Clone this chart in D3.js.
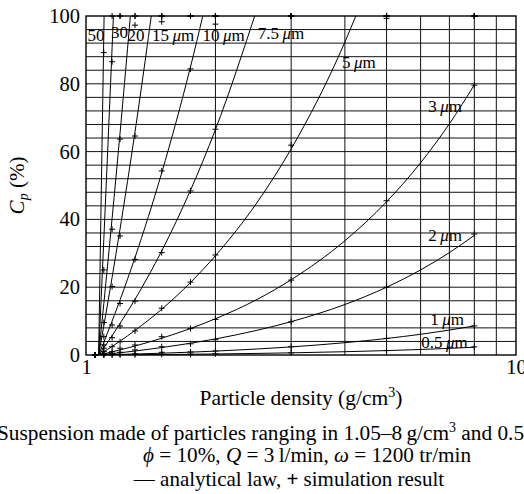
<!DOCTYPE html>
<html>
<head>
<meta charset="utf-8">
<script src="https://cdn.jsdelivr.net/npm/d3@7/dist/d3.min.js"></script>
<style>
  body { margin: 0; background: #fff; }
  svg { display: block; }
  text { font-family: "Liberation Serif", "Times New Roman", serif; fill: #000; }
</style>
</head>
<body>
<div id="chart"></div>
<script>
// particle sizes (µm)
var sizes = ["0.5", "1", "2", "3", "5", "7.5", "10", "15", "20", "30", "50"];

// analytical law, Cp (%)
var lawDensity = [1.07, 1.1, 1.15, 1.2, 1.3, 1.5, 1.75, 2, 2.5, 3, 4, 5, 6, 7, 8];
var law05 = [0, 0.01, 0.03, 0.04, 0.08, 0.14, 0.22, 0.31, 0.47, 0.64, 0.97, 1.3, 1.63, 1.96, 2.29];
var law1  = [0, 0.04, 0.1, 0.16, 0.29, 0.53, 0.84, 1.15, 1.77, 2.39, 3.63, 4.87, 6.11, 7.35, 8.59];
var law2  = [0, 0.15, 0.41, 0.66, 1.17, 2.19, 3.47, 4.74, 7.29, 9.84, 14.9, 20.0, 25.1, 30.2, 35.3];
var law3  = [0, 0.35, 0.92, 1.5, 2.65, 4.95, 7.82, 10.7, 16.4, 22.2, 33.7, 45.2, 56.7, 68.2, 79.7];
var law5  = [0, 0.95, 2.52, 4.1, 7.25, 13.5, 21.4, 29.3, 45.0, 60.8, 92.3, 123.8];
var law75 = [0, 2.1, 5.7, 9.3, 16.4, 30.7, 48.6, 66.5, 102.2];
var law10 = [0, 3.75, 10, 16.25, 28.75, 53.75, 85, 116.25];
var law15 = [0, 8.6, 22.9, 37.2, 65.8, 123];
var law20 = [0, 15.1, 40.3, 65.5, 115.9];
var law30 = [0, 34, 90.7, 147.4];
var law50 = [0, 94.5, 252];

// simulation results
var simDensity = [1.05, 1.1, 1.15, 1.2, 1.3, 1.5, 1.75, 2, 3, 5, 8];
var sim05 = [0, 0, 0.05, 0.05, 0.1, 0.2, 0.25, 0.35, 0.65, 1.3, 2.4];
var sim1  = [0, 0.05, 0.1, 0.2, 0.4, 0.8, 0.9, 1.2, 2.45, 4.9, 8.6];
var sim2  = [0, 0.2, 0.5, 0.8, 1.5, 2.45, 3.3, 4.5, 9.8, 20.0, 35.7];
var sim3  = [0, 0.4, 1.0, 2.0, 2.95, 5.4, 7.8, 10.5, 22.1, 45.5, 79.6];
var sim5  = [0, 1.0, 2.45, 3.9, 7.1, 13.8, 21.5, 29.5, 61.9, 99.3, 100];
var sim75 = [0, 2.0, 5.1, 8.55, 15.9, 30.2, 48.4, 66.6, 100, 100, 100];
var sim10 = [0, 3.0, 8.85, 15.2, 28.2, 54.3, 84.4, 97.6, 100, 100, 100];
var sim15 = [0, 5.4, 20.2, 35.1, 64.6, 98.3, 100, 100, 100, 100, 100];
var sim20 = [0, 9.6, 37.1, 63.7, 97.3, 100, 100, 100, 100, 100, 100];
var sim30 = [0, 25.1, 86.5, 100, 100, 100, 100, 100, 100, 100, 100];
var sim50 = [0, 89.2, 100, 100, 100, 100, 100, 100, 100, 100, 100];

// curve labels: text, unit shown?, anchor density, anchor Cp
var labelText    = ["0.5", "1", "2", "3", "5", "7.5", "10", "15", "20", "30", "50"];
var labelUnit    = [true, true, true, true, true, true, true, true, false, false, false];
var labelDensity = [6.02, 6.32, 6.25, 6.25, 3.94, 2.51, 1.866, 1.424, 1.249, 1.143, 1.008];
var labelCp      = [2.1, 8.85, 33.6, 71.7, 84.7, 93.2, 92.6, 92.6, 92.5, 93.5, 92.6];

var yTicks = [0, 20, 40, 60, 80, 100];
var xTicks = [1, 10];
var xGrid = [2, 3, 4, 5, 6, 7, 8, 9];
var yGrid = d3.range(4, 100, 4);

var laws = [law05, law1, law2, law3, law5, law75, law10, law15, law20, law30, law50];
var sims = [sim05, sim1, sim2, sim3, sim5, sim75, sim10, sim15, sim20, sim30, sim50];

var width = 524, height = 494;
var margin = {top: 16, right: 8, bottom: 139, left: 86};

var x = d3.scaleLog().domain([1, 10]).range([margin.left, width - margin.right]);
var y = d3.scaleLinear().domain([0, 100]).range([height - margin.bottom, margin.top]);

var svg = d3.select("#chart").append("svg")
    .attr("width", width)
    .attr("height", height);

svg.append("defs").append("clipPath")
    .attr("id", "clip")
    .append("rect")
    .attr("x", x(1))
    .attr("y", y(100))
    .attr("width", x(10) - x(1))
    .attr("height", y(0) - y(100));

// grid
var grid = svg.append("g").attr("stroke", "#111").attr("stroke-width", 1);
grid.selectAll("line.v").data(xGrid).enter().append("line")
    .attr("x1", function (d) { return x(d); })
    .attr("x2", function (d) { return x(d); })
    .attr("y1", y(0))
    .attr("y2", y(100));
grid.selectAll("line.h").data(yGrid).enter().append("line")
    .attr("x1", x(1))
    .attr("x2", x(10))
    .attr("y1", function (d) { return y(d); })
    .attr("y2", function (d) { return y(d); });

// frame
svg.append("rect")
    .attr("x", x(1))
    .attr("y", y(100))
    .attr("width", x(10) - x(1))
    .attr("height", y(0) - y(100))
    .attr("fill", "none")
    .attr("stroke", "#000")
    .attr("stroke-width", 1.4);

// axes
var yAxis = svg.append("g")
    .attr("transform", "translate(" + x(1) + ",0)")
    .call(d3.axisLeft(y).tickValues(yTicks).tickSize(0).tickPadding(6));
yAxis.select(".domain").remove();
yAxis.selectAll("text").style("font-size", "20.5px").style("font-family", "Liberation Serif");

var xAxis = svg.append("g")
    .attr("transform", "translate(0," + y(0) + ")")
    .call(d3.axisBottom(x).tickValues(xTicks).tickFormat(d3.format("d")).tickSize(0).tickPadding(4));
xAxis.select(".domain").remove();
xAxis.selectAll("text").style("font-size", "20.5px").style("font-family", "Liberation Serif");

// analytical curves
var line = d3.line()
    .curve(d3.curveMonotoneX)
    .x(function (d) { return x(d[0]); })
    .y(function (d) { return y(d[1]); });

svg.append("g")
    .attr("clip-path", "url(#clip)")
    .selectAll("path")
    .data(laws)
    .enter().append("path")
    .attr("d", function (vals) {
      return line(vals.map(function (v, i) { return [lawDensity[i], v]; }));
    })
    .attr("fill", "none")
    .attr("stroke", "#000")
    .attr("stroke-width", 1);

// simulation markers
var pts = [];
sims.forEach(function (vals, s) {
  vals.forEach(function (v, i) { pts.push({size: sizes[s], rho: simDensity[i], cp: v}); });
});
svg.append("g")
    .selectAll("path")
    .data(pts)
    .enter().append("path")
    .attr("transform", function (d) { return "translate(" + x(d.rho) + "," + y(d.cp) + ")"; })
    .attr("d", "M-3,0H3M0,-3V3")
    .attr("stroke", "#000")
    .attr("stroke-width", 1);

// curve labels
var labels = svg.append("g").style("font-size", "17px");
labelText.forEach(function (t, i) {
  var txt = labels.append("text")
      .attr("x", x(labelDensity[i]))
      .attr("y", y(labelCp[i]));
  txt.append("tspan").text(t);
  if (labelUnit[i]) {
    txt.append("tspan").text("\u2009");
    txt.append("tspan").style("font-style", "italic").text("\u03bc");
    txt.append("tspan").text("m");
  }
});

// y label
var yl = svg.append("text")
    .attr("transform", "translate(24," + ((y(0) + y(100)) / 2) + ") rotate(-90)")
    .attr("text-anchor", "middle")
    .style("font-size", "21px");
yl.append("tspan").style("font-style", "italic").text("C");
yl.append("tspan").style("font-style", "italic").style("font-size", "14px").attr("dy", "4").text("p");
yl.append("tspan").attr("dy", "-4").text(" (%)");

// x label
var cx = (x(1) + x(10)) / 2;
var xl = svg.append("text")
    .attr("x", cx)
    .attr("y", 405)
    .attr("text-anchor", "middle")
    .style("font-size", "21.5px");
xl.append("tspan").text("Particle density (g/cm");
xl.append("tspan").attr("dy", "-8").style("font-size", "14px").text("3");
xl.append("tspan").attr("dy", "8").text(")");

// caption
var c1 = svg.append("text")
    .attr("x", -3)
    .attr("y", 440)
    .style("font-size", "21.3px");
c1.append("tspan").text("Suspension made of particles ranging in 1.05\u20138\u2009g/cm");
c1.append("tspan").attr("dy", "-8").style("font-size", "14px").text("3");
c1.append("tspan").attr("dy", "8").text(" and 0.5");

var c2 = svg.append("text")
    .attr("x", cx + 6)
    .attr("y", 462)
    .attr("text-anchor", "middle")
    .style("font-size", "21.2px");
c2.append("tspan").style("font-style", "italic").text("\u03d5");
c2.append("tspan").text(" = 10%, ");
c2.append("tspan").style("font-style", "italic").text("Q");
c2.append("tspan").text(" = 3\u2009l/min, ");
c2.append("tspan").style("font-style", "italic").text("\u03c9");
c2.append("tspan").text(" = 1200 tr/min");

var c3 = svg.append("text")
    .attr("x", cx - 12)
    .attr("y", 486)
    .attr("text-anchor", "middle")
    .style("font-size", "21px");
c3.append("tspan").text("\u2014 analytical law, ");
c3.append("tspan").style("font-weight", "bold").text("+");
c3.append("tspan").text(" simulation result");
</script>
</body>
</html>
